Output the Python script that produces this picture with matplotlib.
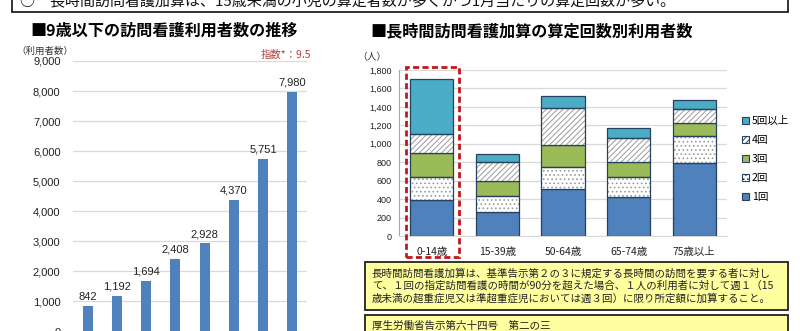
import numpy as np
import matplotlib
matplotlib.use("Agg")
import matplotlib.pyplot as plt
from matplotlib.patches import Rectangle, Patch

plt.rcParams['font.family'] = ['Noto Sans CJK JP', 'DejaVu Sans']
plt.rcParams['hatch.linewidth'] = 0.7

# ---------------- data ----------------
left_values = [842, 1192, 1694, 2408, 2928, 4370, 5751, 7980]
left_yticks = [0, 1000, 2000, 3000, 4000, 5000, 6000, 7000, 8000, 9000]

age_groups = ['0-14歳', '15-39歳', '50-64歳', '65-74歳', '75歳以上']
series_names = ['1回', '2回', '3回', '4回', '5回以上']
s1 = [386, 263, 505, 418, 793]
s2 = [250, 173, 241, 220, 295]
s3 = [261, 160, 241, 169, 134]
s4 = [211, 211, 397, 252, 158]
s5 = [591, 83, 130, 109, 94]
right_yticks = [0, 200, 400, 600, 800, 1000, 1200, 1400, 1600, 1800]

top_text = '○　長時間訪問看護加算は、15歳未満の小児の算定者数が多くかつ1月当たりの算定回数が多い。'
left_title = '■9歳以下の訪問看護利用者数の推移'
right_title = '■長時間訪問看護加算の算定回数別利用者数'
left_ylabel = '（利用者数）'
right_ylabel = '（人）'
index_note = '指数*：9.5'
note1 = ('長時間訪問看護加算は、基準告示第２の３に規定する長時間の訪問を要する者に対し\n'
         'て、１回の指定訪問看護の時間が90分を超えた場合、１人の利用者に対して週１（15\n'
         '歳未満の超重症児又は準超重症児においては週３回）に限り所定額に加算すること。')
note2 = '厚生労働省告示第六十四号　第二の三'

W, H = 800, 331
fig = plt.figure(figsize=(W / 100, H / 100), dpi=100)
fig.patch.set_facecolor('white')

def fx(px):
    return px / W

def fy(py):
    return (H - py) / H

num_font = ['Liberation Sans', 'Noto Sans CJK JP']
grid_c = '#D9D9D9'

# ---------------- top box ----------------
fig.patches.append(Rectangle((fx(12), fy(12)), fx(788) - fx(12), 0.2,
                             transform=fig.transFigure, facecolor='white',
                             edgecolor='#222222', linewidth=1.3, zorder=0))
fig.text(fx(20), fy(0.5), top_text, fontsize=10.8, va='center', ha='left', color='#111111')

# ---------------- titles ----------------
fig.text(fx(30), fy(31), left_title, fontsize=11.6, fontweight='bold', va='center', ha='left')
fig.text(fx(370), fy(31), right_title, fontsize=11.6, fontweight='bold', va='center', ha='left')

# ---------------- left chart ----------------
ax1 = fig.add_axes([fx(73), fy(331.5), fx(307) - fx(73), fy(61) - fy(331.5)])
x1 = np.arange(len(left_values))
bars = ax1.bar(x1, left_values, width=0.35, color='#4F81BD', zorder=3)
ax1.bar_label(bars, labels=[f'{v:,}' for v in left_values], padding=3,
              fontsize=8, family=num_font, color='#222222')
ax1.set_xlim(-0.5, len(left_values) - 0.5)
ax1.set_ylim(0, 9000)
ax1.set_yticks(left_yticks)
ax1.set_yticklabels([f'{v:,}' for v in left_yticks], family=num_font, fontsize=8, color='#222222')
ax1.tick_params(axis='y', length=0, pad=9)
ax1.set_xticks([])
ax1.grid(axis='y', color=grid_c, linewidth=0.9, zorder=0)
for s in ax1.spines.values():
    s.set_visible(False)
ax1.set_facecolor('none')
fig.text(fx(45), fy(51), left_ylabel, fontsize=6.8, ha='center', va='center', color='#333333')
fig.text(fx(286), fy(55), index_note, fontsize=7.5, ha='center', va='center', color='#B0413E')

# ---------------- right chart ----------------
ax2 = fig.add_axes([fx(399), fy(236), fx(727) - fx(399), fy(70) - fy(236)])
x2 = np.arange(len(age_groups))
bw = 0.66
edge = '#27415E'
series = [s1, s2, s3, s4, s5]
faces = ['#4F81BD', 'white', '#9BBB59', 'white', '#4BACC6']
hatches = [None, '....', None, '//////', None]
bottom = np.zeros(len(age_groups))
for vals, fc, ht in zip(series, faces, hatches):
    vals = np.array(vals, dtype=float)
    if ht:
        ax2.bar(x2, vals, bw, bottom=bottom, color=fc, edgecolor='#9A9A9A',
                hatch=ht, linewidth=0, zorder=3)
        ax2.bar(x2, vals, bw, bottom=bottom, fill=False, edgecolor=edge,
                linewidth=0.9, zorder=4)
    else:
        ax2.bar(x2, vals, bw, bottom=bottom, color=fc, edgecolor=edge,
                linewidth=0.9, zorder=3)
    bottom += vals

ax2.set_xlim(-0.5, len(age_groups) - 0.5)
ax2.set_ylim(0, 1800)
ax2.set_yticks(right_yticks)
ax2.set_yticklabels([f'{v:,}' for v in right_yticks], family=num_font, fontsize=6.5, color='#222222')
ax2.set_xticks(x2)
ax2.set_xticklabels(age_groups, fontsize=7.5, color='#222222')
ax2.tick_params(axis='y', length=0, pad=5)
ax2.tick_params(axis='x', length=0, pad=8)
ax2.grid(axis='y', color=grid_c, linewidth=0.9, zorder=0)
for k in ['top', 'right']:
    ax2.spines[k].set_visible(False)
ax2.spines['left'].set_color('#A6A6A6')
ax2.spines['bottom'].set_color(grid_c)
ax2.set_facecolor('none')
fig.text(fx(372), fy(57), right_ylabel, fontsize=7, ha='center', va='center', color='#333333')

handles = []
for name, fc, ht in zip(series_names, faces, hatches):
    handles.append(Patch(facecolor=fc, edgecolor=edge, hatch=ht, linewidth=0.8, label=name))
leg = ax2.legend(handles[::-1], series_names[::-1], loc='upper left',
                 bbox_to_anchor=(fx(742), fy(116)), bbox_transform=fig.transFigure,
                 frameon=False, fontsize=7.6, handlelength=0.65, handleheight=0.65,
                 handletextpad=0.3, labelspacing=0.85, borderpad=0, borderaxespad=0)

# red dashed highlight around 0-14 group
fig.patches.append(Rectangle((fx(406), fy(257)), fx(459) - fx(406), fy(67) - fy(257),
                             transform=fig.transFigure, fill=False, edgecolor='#C0181E',
                             linewidth=2.0, linestyle=(0, (2.2, 1.2)), zorder=10))

# ---------------- note boxes ----------------
fig.patches.append(Rectangle((fx(365), fy(310)), fx(788) - fx(365), fy(262) - fy(310),
                             transform=fig.transFigure, facecolor='#FFFF9F',
                             edgecolor='#222222', linewidth=1.3, zorder=1))
fig.text(fx(372), fy(286), note1, fontsize=7.55, ha='left', va='center',
         linespacing=1.2, color='#222222')
fig.patches.append(Rectangle((fx(365), fy(345)), fx(788) - fx(365), fy(315) - fy(345),
                             transform=fig.transFigure, facecolor='#FFFF9F',
                             edgecolor='#222222', linewidth=1.3, zorder=1))
fig.text(fx(372), fy(326), note2, fontsize=7.6, ha='left', va='center', color='#222222')

fig.savefig('out.png', dpi=100)
